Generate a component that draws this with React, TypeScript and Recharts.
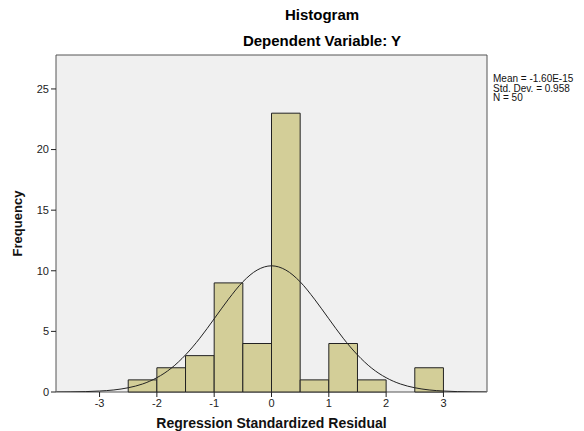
import { ComposedChart, Line, XAxis, YAxis, ReferenceArea } from 'recharts'

// histogram bins (bin start, bin end, count)
const binStarts = [-2.5, -2, -1.5, -1, -0.5, 0, 0.5, 1, 1.5, 2, 2.5]
const binEnds = [-2, -1.5, -1, -0.5, 0, 0.5, 1, 1.5, 2, 2.5, 3]
const counts = [1, 2, 3, 9, 4, 23, 1, 4, 1, 0, 2]

// normal curve
const curveX = [
  -3.75, -3.5, -3.25, -3, -2.75, -2.5, -2.25, -2, -1.75, -1.5, -1.25, -1, -0.75, -0.5, -0.25, 0,
  0.25, 0.5, 0.75, 1, 1.25, 1.5, 1.75, 2, 2.25, 2.5, 2.75, 3, 3.25, 3.5, 3.75,
]
const curveY = [
  0.0, 0.01, 0.03, 0.08, 0.17, 0.35, 0.66, 1.18, 1.96, 3.06, 4.44, 6.04, 7.66, 9.09, 10.06, 10.41,
  10.06, 9.09, 7.66, 6.04, 4.44, 3.06, 1.96, 1.18, 0.66, 0.35, 0.17, 0.08, 0.03, 0.01, 0.0,
]

const xTicks = [-3, -2, -1, 0, 1, 2, 3]
const yTicks = [0, 5, 10, 15, 20, 25]
const statLines = ['Mean = -1.60E-15', 'Std. Dev. = 0.958', 'N = 50']

const xMin = -3.76
const xMax = 3.76
const yMax = 27.8

const curveData = curveX.map((x, i) => ({ x, y: curveY[i] }))

const font = 'Arial, "Liberation Sans", sans-serif'

export default function App() {
  return (
    <div style={{ position: 'absolute', left: 0, top: 0, width: 584, height: 431, background: '#fff', fontFamily: font }}>
      <div style={{ position: 'absolute', left: 0, width: 644, top: 6, textAlign: 'center', fontWeight: 'bold', fontSize: 15 }}>
        Histogram
      </div>
      <div style={{ position: 'absolute', left: 0, width: 644, top: 32, textAlign: 'center', fontWeight: 'bold', fontSize: 15 }}>
        Dependent Variable: Y
      </div>
      <div style={{ position: 'absolute', left: 493, top: 74, fontSize: 10, lineHeight: '9.5px', color: '#111' }}>
        {statLines.map((s) => (
          <div key={s}>{s}</div>
        ))}
      </div>
      <ComposedChart
        width={584}
        height={431}
        data={curveData}
        margin={{ top: 55, right: 97, bottom: 0, left: 0 }}
      >
        <XAxis
          dataKey="x"
          type="number"
          domain={[xMin, xMax]}
          ticks={xTicks}
          allowDataOverflow
          height={39}
          axisLine={false}
          tickLine={{ stroke: '#222' }}
          tickSize={5}
          tick={{ fontSize: 11, fill: '#222', fontFamily: font }}
          label={{ value: 'Regression Standardized Residual', position: 'insideBottom', offset: 3, fontSize: 14, fontWeight: 'bold', fill: '#111', fontFamily: font }}
        />
        <YAxis
          type="number"
          domain={[0, yMax]}
          ticks={yTicks}
          allowDataOverflow
          width={56}
          axisLine={false}
          tickLine={{ stroke: '#222' }}
          tickSize={5}
          tick={{ fontSize: 11, fill: '#222', fontFamily: font }}
          label={{ value: 'Frequency', angle: -90, position: 'insideLeft', offset: 17, fontSize: 13, fontWeight: 'bold', fill: '#111', fontFamily: font, style: { textAnchor: 'middle' } }}
        />
        <ReferenceArea x1={xMin} x2={xMax} y1={0} y2={yMax} fill="#f0f0f0" fillOpacity={1} stroke="#555" strokeWidth={1} ifOverflow="visible" />
        {binStarts.map((b, i) =>
          counts[i] > 0 ? (
            <ReferenceArea
              key={b}
              x1={b}
              x2={binEnds[i]}
              y1={0}
              y2={counts[i]}
              fill="#d3ce98"
              fillOpacity={1}
              stroke="#222"
              strokeWidth={1}
              ifOverflow="visible"
            />
          ) : null,
        )}
        <Line dataKey="y" type="monotone" stroke="#222" strokeWidth={1} dot={false} isAnimationActive={false} />
      </ComposedChart>
    </div>
  )
}
